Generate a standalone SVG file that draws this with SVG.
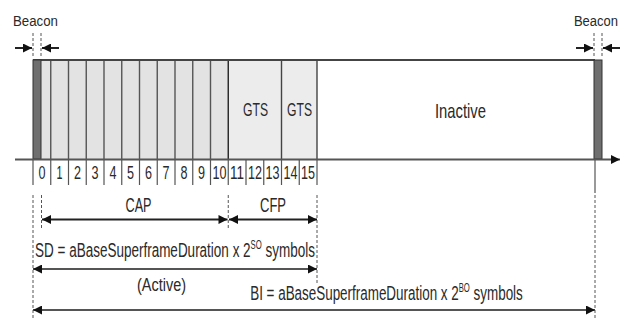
<svg xmlns="http://www.w3.org/2000/svg" width="621" height="320" viewBox="0 0 621 320">
<defs>
<marker id="ah" viewBox="0 0 10 10" refX="10" refY="5" markerUnits="userSpaceOnUse" markerWidth="10" markerHeight="9" orient="auto-start-reverse">
<path d="M0,0 L10,5 L0,10 z" fill="#111"/>
</marker>
<style>
text{font-family:"Liberation Sans",Arial,sans-serif;fill:#2a2a2a;text-anchor:middle}
.cap{fill:#e3e3e3}
.gts{fill:#ececec}
.slot{stroke:#555;stroke-width:1.4}
.tick{stroke:#555;stroke-width:1.2}
.dash{stroke:#555;stroke-width:1;stroke-dasharray:3 2;fill:none}
.arr{stroke:#222;stroke-width:2;fill:none}
.arrg{stroke:#555;stroke-width:2;fill:none}
.bar{fill:#6f6f6f;stroke:#333;stroke-width:1}
.num{font-size:17.5px}
.sup{font-size:12px;baseline-shift:8px}
</style>
</defs>
<rect width="621" height="320" fill="#fff"/>

<g id="slots">
<rect class="cap" x="33" y="60" width="195" height="99"/>
<rect class="gts" x="228" y="60" width="89" height="99"/>
<line class="slot" x1="50.75" y1="60" x2="50.75" y2="159"/>
<line class="slot" x1="68.5" y1="60" x2="68.5" y2="159"/>
<line class="slot" x1="86.25" y1="60" x2="86.25" y2="159"/>
<line class="slot" x1="104" y1="60" x2="104" y2="159"/>
<line class="slot" x1="121.75" y1="60" x2="121.75" y2="159"/>
<line class="slot" x1="139.5" y1="60" x2="139.5" y2="159"/>
<line class="slot" x1="157.25" y1="60" x2="157.25" y2="159"/>
<line class="slot" x1="175" y1="60" x2="175" y2="159"/>
<line class="slot" x1="192.75" y1="60" x2="192.75" y2="159"/>
<line class="slot" x1="210.5" y1="60" x2="210.5" y2="159"/>
<line x1="228.25" y1="60" x2="228.25" y2="159" stroke="#222" stroke-width="1.4"/>
<line x1="281.5" y1="60" x2="281.5" y2="159" stroke="#444" stroke-width="1.4"/>
<line x1="317" y1="60" x2="317" y2="159" stroke="#444" stroke-width="1.4"/>
<line x1="33" y1="60" x2="595" y2="60" stroke="#444" stroke-width="2"/>
</g>

<g id="gts1"><text x="255.5" y="116" font-size="18.5" textLength="25" lengthAdjust="spacingAndGlyphs">GTS</text></g>
<g id="gts2"><text x="299.5" y="116" font-size="18.5" textLength="25" lengthAdjust="spacingAndGlyphs">GTS</text></g>
<g id="inactive"><text x="460.5" y="118" font-size="21" textLength="51" lengthAdjust="spacingAndGlyphs">Inactive</text></g>

<g id="beacon-left">
<rect class="bar" x="33" y="60" width="8" height="99"/>
<text x="35.5" y="26" font-size="15.5" textLength="45" lengthAdjust="spacingAndGlyphs">Beacon</text>
</g>
<g id="beacon-right">
<rect class="bar" x="594" y="60" width="8" height="99"/>
<text transform="translate(596,26) scale(0.84,1)" x="0" y="0" font-size="15.5">Beacon</text>
</g>

<g id="slot-numbers" class="num">
<text x="41.9" y="179" textLength="7" lengthAdjust="spacingAndGlyphs">0</text>
<text x="59.6" y="179" textLength="6" lengthAdjust="spacingAndGlyphs">1</text>
<text x="77.4" y="179" textLength="7" lengthAdjust="spacingAndGlyphs">2</text>
<text x="95.1" y="179" textLength="7" lengthAdjust="spacingAndGlyphs">3</text>
<text x="112.9" y="179" textLength="7" lengthAdjust="spacingAndGlyphs">4</text>
<text x="130.6" y="179" textLength="7" lengthAdjust="spacingAndGlyphs">5</text>
<text x="148.4" y="179" textLength="7" lengthAdjust="spacingAndGlyphs">6</text>
<text x="166.1" y="179" textLength="7" lengthAdjust="spacingAndGlyphs">7</text>
<text x="183.9" y="179" textLength="7" lengthAdjust="spacingAndGlyphs">8</text>
<text x="201.6" y="179" textLength="7" lengthAdjust="spacingAndGlyphs">9</text>
<text x="219.4" y="179" textLength="14" lengthAdjust="spacingAndGlyphs">10</text>
<text x="237.1" y="179" textLength="14" lengthAdjust="spacingAndGlyphs">11</text>
<text x="254.9" y="179" textLength="14" lengthAdjust="spacingAndGlyphs">12</text>
<text x="272.6" y="179" textLength="14" lengthAdjust="spacingAndGlyphs">13</text>
<text x="290.4" y="179" textLength="14" lengthAdjust="spacingAndGlyphs">14</text>
<text x="308.1" y="179" textLength="14" lengthAdjust="spacingAndGlyphs">15</text>
</g>

<g id="labels">
<text x="138.5" y="212" font-size="19.5" textLength="26" lengthAdjust="spacingAndGlyphs">CAP</text>
<text x="273" y="212" font-size="19.5" textLength="26" lengthAdjust="spacingAndGlyphs">CFP</text>
<text transform="translate(175,257) scale(0.643,1)" x="0" y="0" font-size="21">SD = aBaseSuperframeDuration x 2<tspan class="sup">SO</tspan> symbols</text>
<text x="161.5" y="291" font-size="19" textLength="49" lengthAdjust="spacingAndGlyphs">(Active)</text>
<text transform="translate(386.5,300) scale(0.64,1)" x="0" y="0" font-size="21">BI = aBaseSuperframeDuration x 2<tspan class="sup">BO</tspan> symbols</text>
</g>

<g id="connectors">
<line x1="15" y1="159.5" x2="620" y2="159.5" stroke="#555" stroke-width="2" marker-end="url(#ah)"/>
<g class="tick">
<line x1="33" y1="160" x2="33" y2="185"/>
<line x1="50.75" y1="160" x2="50.75" y2="185"/>
<line x1="68.5" y1="160" x2="68.5" y2="185"/>
<line x1="86.25" y1="160" x2="86.25" y2="185"/>
<line x1="104" y1="160" x2="104" y2="185"/>
<line x1="121.75" y1="160" x2="121.75" y2="185"/>
<line x1="139.5" y1="160" x2="139.5" y2="185"/>
<line x1="157.25" y1="160" x2="157.25" y2="185"/>
<line x1="175" y1="160" x2="175" y2="185"/>
<line x1="192.75" y1="160" x2="192.75" y2="185"/>
<line x1="210.5" y1="160" x2="210.5" y2="185"/>
<line x1="228.25" y1="160" x2="228.25" y2="185"/>
<line x1="246" y1="160" x2="246" y2="185"/>
<line x1="263.75" y1="160" x2="263.75" y2="185"/>
<line x1="281.5" y1="160" x2="281.5" y2="185"/>
<line x1="299.25" y1="160" x2="299.25" y2="185"/>
<line x1="317" y1="160" x2="317" y2="185"/>
<line x1="595" y1="160" x2="595" y2="193"/>
</g>
<line class="dash" x1="33" y1="33" x2="33" y2="58"/>
<line class="dash" x1="41" y1="33" x2="41" y2="58"/>
<line class="dash" x1="594" y1="33" x2="594" y2="58"/>
<line class="dash" x1="602" y1="33" x2="602" y2="58"/>
<line class="arr" x1="15" y1="48" x2="32" y2="48" marker-end="url(#ah)"/>
<line class="arr" x1="59" y1="48" x2="42" y2="48" marker-end="url(#ah)"/>
<line class="arr" x1="576" y1="48" x2="593" y2="48" marker-end="url(#ah)"/>
<line class="arr" x1="620" y1="48" x2="603" y2="48" marker-end="url(#ah)"/>
<line class="dash" x1="33" y1="195" x2="33" y2="320"/>
<line class="dash" x1="41.5" y1="195" x2="41.5" y2="230"/>
<line class="dash" x1="228.25" y1="195" x2="228.25" y2="228"/>
<line class="dash" x1="317" y1="195" x2="317" y2="283"/>
<line class="dash" x1="595" y1="195" x2="595" y2="320"/>
<line class="arr" x1="42" y1="219.5" x2="227.5" y2="219.5" marker-start="url(#ah)" marker-end="url(#ah)"/>
<line class="arr" x1="229" y1="219.5" x2="317" y2="219.5" marker-start="url(#ah)" marker-end="url(#ah)"/>
<line class="arrg" x1="33" y1="269" x2="317" y2="269" marker-start="url(#ah)" marker-end="url(#ah)"/>
<line class="arrg" x1="33" y1="310" x2="595" y2="310" marker-start="url(#ah)" marker-end="url(#ah)"/>
</g>
</svg>
